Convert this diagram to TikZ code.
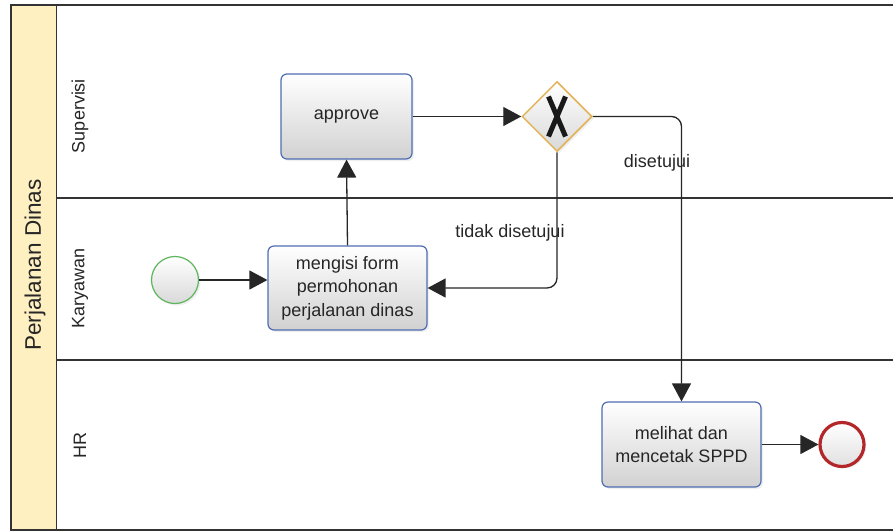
\documentclass[tikz,border=0pt]{standalone}
\usepackage{fontspec}
\setmainfont{Liberation Sans}
\usetikzlibrary{shapes.geometric,arrows.meta,calc,shadows}
\definecolor{taskborder}{HTML}{4F6DB3}
\definecolor{gateborder}{HTML}{E2B257}
\definecolor{startborder}{HTML}{5DB55D}
\definecolor{endborder}{HTML}{B3262A}
\definecolor{headerfill}{HTML}{FFF0C2}
\definecolor{txt}{HTML}{262626}
\definecolor{frame}{HTML}{333333}
\tikzset{
  bpmntask/.style={draw=taskborder, line width=1.2pt, rounded corners=6pt,
    top color=white, bottom color=black!18, text=txt, align=center,
    font=\fontsize{18}{23.5}\selectfont, inner sep=2pt,
    drop shadow={opacity=0.12, shadow xshift=2pt, shadow yshift=-2pt}},
  bpmngate/.style={diamond, aspect=1, draw=gateborder, line width=1.5pt,
    top color=white, bottom color=black!15, minimum width=70pt, minimum height=70pt, inner sep=0pt,
    drop shadow={opacity=0.12, shadow xshift=2pt, shadow yshift=-2pt}},
  startev/.style={circle, draw=startborder, line width=1.2pt, minimum size=47pt, inner sep=0pt,
    top color=white, bottom color=black!15,
    drop shadow={opacity=0.12, shadow xshift=2pt, shadow yshift=-2pt}},
  endev/.style={circle, draw=endborder, line width=3.2pt, minimum size=44pt, inner sep=0pt,
    top color=white, bottom color=black!12,
    drop shadow={opacity=0.15, shadow xshift=2pt, shadow yshift=-2pt}},
  flow/.style={line width=1.3pt, draw=black!85, -{Triangle[length=18pt,width=19pt]}},
  lbl/.style={text=txt, font=\fontsize{18}{21}\selectfont, inner sep=0pt},
  lanelbl/.style={text=txt, font=\fontsize{18}{21}\selectfont, rotate=90, inner sep=0pt},
  poollbl/.style={text=txt, font=\fontsize{22.5}{26}\selectfont, rotate=90, inner sep=0pt},
  frameline/.style={draw=frame, line width=1.3pt}
}
\begin{document}
\begin{tikzpicture}[x=1pt,y=-1pt]
\useasboundingbox (0,0) rectangle (893,531);
\fill[white] (0,0) rectangle (893,531);
% pool header
\fill[headerfill] (11,5) rectangle (56.5,530);
\draw[frameline] (893,5) -- (11,5) -- (11,530) -- (893,530);
\draw[frameline] (56.5,5) -- (56.5,530);
\draw[frameline] (56.5,198) -- (893,198);
\draw[frameline] (56.5,360) -- (893,360);
% labels of pool and lanes
\node[poollbl] (pool) at (35,265) {Perjalanan Dinas};
\node[lanelbl] (lsup) at (80,116) {Supervisi};
\node[lanelbl] (lkar) at (80,288) {Karyawan};
\node[lanelbl] (lhr) at (80,445) {HR};
% nodes
\node[bpmntask, minimum width=131pt, minimum height=85pt] (approve) at (346.5,116.5) {approve};
\node[bpmntask, minimum width=159pt, minimum height=84pt] (mengisi) at (347.5,288) {mengisi form\\permohonan\\perjalanan dinas};
\node[bpmntask, minimum width=159pt, minimum height=85pt] (melihat) at (681.5,444.5) {melihat dan\\mencetak SPPD};
\node[bpmngate] (gate) at (557,116.5) {};
\draw[line width=5pt, black!90] ($(gate)+(-8.5,-20)$) -- ($(gate)+(8.5,20)$);
\draw[line width=5pt, black!90] ($(gate)+(8.5,-20)$) -- ($(gate)+(-8.5,20)$);
\node[startev] (start) at (175,280) {};
\node[endev] (end) at (842,444.5) {};
% flows
\draw[flow] (start.east) -- (start.east -| mengisi.west);
\draw[flow] (mengisi.north) -- (approve.south);
\draw[flow] (approve.east) -- (approve.east -| gate.west);
\draw[flow, rounded corners=10pt] (gate.south) |- (mengisi.east);
\draw[flow, rounded corners=10pt] (gate.east) -| (melihat.north);
\draw[flow] (melihat.east) -- (end.west);
% flow labels
\node[lbl] (tidak) at (510,233) {tidak disetujui};
\node[lbl] (setuju) at (657,163) {disetujui};
\end{tikzpicture}
\end{document}
